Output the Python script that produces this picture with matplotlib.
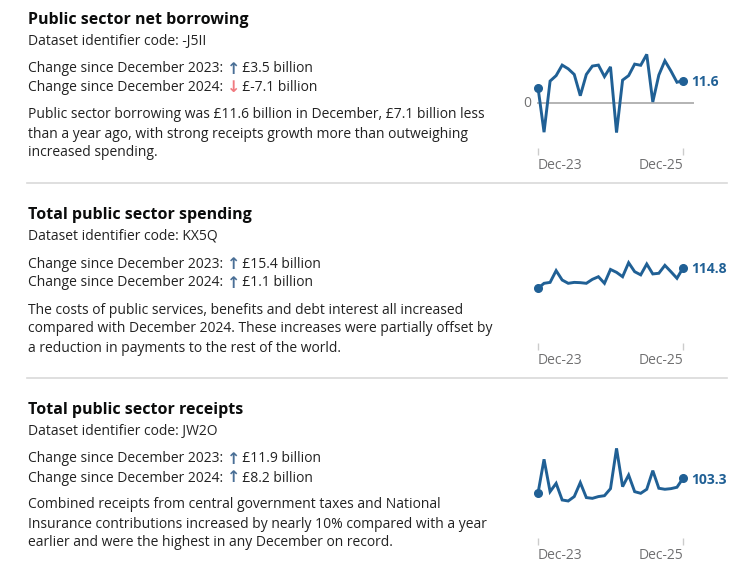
import matplotlib
matplotlib.use('Agg')
import matplotlib.pyplot as plt
import pandas as pd

plt.rcParams['font.family'] = ['Open Sans', 'DejaVu Sans']

# monthly values, Dec 2023 to Dec 2025, £ billion
months = pd.date_range('2023-12-01', '2025-12-01', freq='MS')
borrowing = [8.1, -14.8, 11.4, 14.2, 19.6, 17.7, 14.8, 3.9, 14.8, 19.1, 19.6, 13.7, 18.7,
             -15.0, 11.9, 14.2, 20.1, 19.5, 25.1, 0.7, 14.5, 21.8, 16.6, 10.8, 11.6]
spending = [99.4, 103.2, 103.9, 112.8, 105.7, 103.2, 103.9, 103.7, 103.2, 106.2, 108.2, 103.2, 113.7,
            111.5, 108.2, 118.8, 112.0, 109.6, 117.8, 110.3, 110.8, 116.8, 112.0, 107.0, 114.8]
receipts = [91.4, 118.4, 92.7, 99.3, 86.1, 85.3, 88.8, 99.9, 88.0, 87.4, 88.8, 89.5, 95.1,
            127.1, 96.7, 105.9, 92.7, 91.4, 94.6, 109.4, 95.4, 94.6, 95.1, 96.2, 103.3]

titles = ['Public sector net borrowing', 'Total public sector spending', 'Total public sector receipts']
codes = ['-J5II', 'KX5Q', 'JW2O']
change_23 = [('up', '£3.5 billion'), ('up', '£15.4 billion'), ('up', '£11.9 billion')]
change_24 = [('down', '£-7.1 billion'), ('up', '£1.1 billion'), ('up', '£8.2 billion')]
paragraphs = [
    ['Public sector borrowing was £11.6 billion in December, £7.1 billion less',
     'than a year ago, with strong receipts growth more than outweighing',
     'increased spending.'],
    ['The costs of public services, benefits and debt interest all increased',
     'compared with December 2024. These increases were partially offset by',
     'a reduction in payments to the rest of the world.'],
    ['Combined receipts from central government taxes and National',
     'Insurance contributions increased by nearly 10% compared with a year',
     'earlier and were the highest in any December on record.'],
]
series = [borrowing, spending, receipts]
ylims = [(-22.9, 29.9), (58.0, 136.0), (55.9, 137.7)]

W, H = 745, 571
BLUE = '#206095'
TEXT = '#222222'
GREY = '#707071'
arrow_col = {'up': '#4a6f96', 'down': '#f07a80'}
arrow_chr = {'up': '\u2191', 'down': '\u2193'}

fig = plt.figure(figsize=(W / 100, H / 100), dpi=100)
renderer = fig.canvas.get_renderer()


def fy(y):
    return 1 - y / H


def chain(x, y, parts):
    # draw text pieces one after another on the same line
    x = x / W
    for s, color, kw in parts:
        t = fig.text(x, fy(y), s, color=color, va='center', ha='left', **kw)
        x = t.get_window_extent(renderer).x1 / W


for i in range(3):
    o = 195 * i
    fig.text(28 / W, fy(20 + o), titles[i], fontsize=11.5, fontweight='bold',
             color='#0b0c0c', va='center')
    fig.text(28 / W, fy(41 + o), 'Dataset identifier code: ' + codes[i],
             fontsize=10, color=TEXT, va='center')
    for yy, yr, (d, val) in [(69, '2023', change_23[i]), (88, '2024', change_24[i])]:
        chain(28, yy + o, [
            ('Change since December %s: ' % yr, TEXT, dict(fontsize=10)),
            (arrow_chr[d], arrow_col[d], dict(fontsize=11.5, fontweight='bold', family='DejaVu Sans')),
            ('\u2009' + val, TEXT, dict(fontsize=10)),
        ])
    for k, line in enumerate(paragraphs[i]):
        fig.text(28 / W, fy(115 + 19 * k + o), line, fontsize=10, color=TEXT, va='center')

    if i < 2:
        fig.add_artist(plt.Line2D([27 / W, 727 / W], [fy(183 + o), fy(183 + o)],
                                  color='#d9d9d9', lw=1.2))

    # sparkline
    top, bottom = 45 + o, 148 + o
    ax = fig.add_axes([538 / W, fy(bottom), 145 / W, (bottom - top) / H])
    vals = series[i]
    x = list(range(len(vals)))
    ax.plot(x, vals, color=BLUE, lw=2.1, clip_on=False, solid_joinstyle='miter')
    ax.plot([x[0], x[-1]], [vals[0], vals[-1]], 'o', color=BLUE, ms=5.5, clip_on=False)
    ax.annotate('%.1f' % vals[-1], xy=(x[-1], vals[-1]), xytext=(6, -1),
                textcoords='offset points', ha='left', va='center',
                fontsize=10, fontweight='bold', color=BLUE)
    if i == 0:
        ax.axhline(0, xmin=0, xmax=1.07, color='#b3b3b3', lw=1.4, clip_on=False, zorder=0)
        ax.annotate('0', xy=(0, 0), xytext=(-5, 0), textcoords='offset points',
                    ha='right', va='center', fontsize=10, color=GREY)
    ax.set_xlim(0, len(vals) - 1)
    ax.set_ylim(*ylims[i])
    ax.set_xticks([0, len(vals) - 1])
    ax.set_xticklabels([months[0].strftime('%b-%y'), months[-1].strftime('%b-%y')])
    labs = ax.get_xticklabels()
    labs[0].set_ha('left')
    labs[1].set_ha('right')
    ax.set_yticks([])
    ax.tick_params(axis='x', direction='out', length=5, width=1, color='#cccccc',
                   labelcolor=GREY, labelsize=10, pad=2)
    for s in ax.spines.values():
        s.set_visible(False)
    ax.patch.set_alpha(0)

fig.savefig('out.png', dpi=100)
